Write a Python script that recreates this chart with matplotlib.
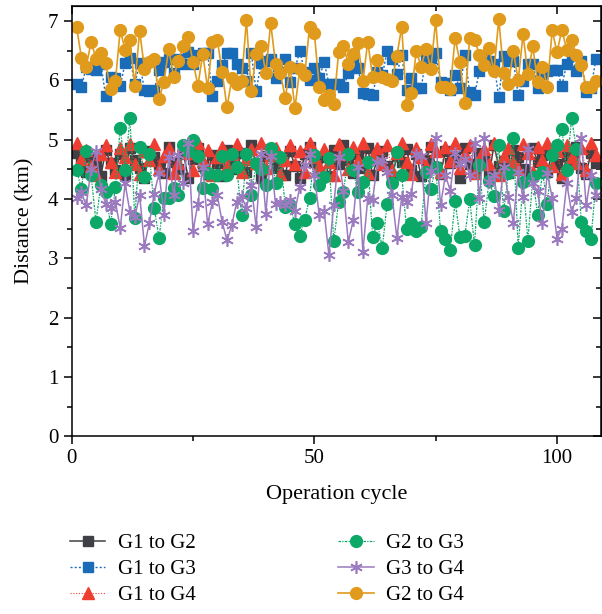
import matplotlib
matplotlib.use('Agg')
import matplotlib.pyplot as plt
import numpy as np

plt.rcParams['font.family'] = ['Liberation Serif', 'DejaVu Serif']

# distances (km) per operation cycle, cycles 1..108
g1_g2 = [4.78, 4.62, 4.45, 4.70, 4.55, 4.38, 4.82, 4.60, 4.48, 4.75, 4.40, 4.85, 4.66, 4.52, 4.36, 4.80, 4.70, 4.58,
         4.44, 4.88, 4.62, 4.50, 4.78, 4.35, 4.68, 4.86, 4.55, 4.42, 4.74, 4.60, 4.38, 4.83, 4.66, 4.50, 4.78, 4.45,
         4.90, 4.58, 4.36, 4.72, 4.84, 4.52, 4.64, 4.40, 4.80, 4.56, 4.35, 4.76, 4.88, 4.62, 4.46, 4.70, 4.38, 4.82,
         4.58, 4.90, 4.66, 4.44, 4.75, 4.52, 4.86, 4.40, 4.68, 4.80, 4.55, 4.36, 4.72, 4.62, 4.84, 4.48, 4.76, 4.38,
         4.66, 4.88, 4.54, 4.42, 4.80, 4.60, 4.72, 4.35, 4.85, 4.58, 4.46, 4.78, 4.68, 4.40, 4.90, 4.56, 4.64, 4.44,
         4.82, 4.70, 4.50, 4.38, 4.86, 4.62, 4.74, 4.45, 4.80, 4.58, 4.36, 4.72, 4.66, 4.88, 4.52, 4.42, 4.78, 4.60]

g1_g3 = [5.93, 5.89, 6.22, 6.19, 6.18, 6.28, 5.73, 6.05, 6.04, 5.90, 6.29, 6.38, 5.93, 6.29, 5.83, 5.82, 5.83, 6.18,
         6.30, 6.35, 6.12, 6.35, 6.28, 6.47, 6.28, 6.42, 6.45, 6.46, 5.73, 5.99, 6.25, 6.45, 6.45, 6.28, 6.20, 5.98,
         6.46, 5.81, 6.29, 6.33, 6.36, 6.03, 6.14, 6.36, 5.97, 6.20, 6.49, 6.14, 6.00, 6.20, 6.03, 6.31, 5.94, 5.93,
         5.93, 5.88, 6.12, 6.30, 6.21, 5.78, 5.77, 5.75, 6.14, 6.08, 6.50, 6.36, 6.11, 6.42, 5.83, 6.03, 5.86, 5.86,
         6.39, 6.38, 6.45, 5.97, 5.96, 5.84, 6.08, 5.86, 6.42, 5.80, 5.75, 6.15, 6.37, 6.33, 6.28, 5.71, 6.40, 6.33,
         6.33, 5.75, 5.99, 6.28, 6.28, 5.86, 6.11, 6.15, 6.18, 6.18, 5.90, 6.28, 6.42, 6.15, 6.33, 5.80, 5.86, 6.35]

g1_g4 = [4.95, 4.68, 4.82, 4.55, 4.40, 4.75, 4.90, 4.62, 4.45, 4.85, 4.70, 4.92, 4.58, 4.42, 4.80, 4.66, 4.92, 4.50,
         4.72, 4.86, 4.44, 4.60, 4.90, 4.78, 4.48, 4.95, 4.64, 4.82, 4.40, 4.70, 4.88, 4.56, 4.76, 4.92, 4.46, 4.68,
         4.84, 4.60, 4.95, 4.52, 4.74, 4.86, 4.42, 4.66, 4.90, 4.58, 4.80, 4.45, 4.94, 4.70, 4.55, 4.84, 4.62, 4.40,
         4.92, 4.76, 4.50, 4.88, 4.66, 4.95, 4.44, 4.72, 4.85, 4.58, 4.90, 4.48, 4.78, 4.94, 4.62, 4.42, 4.86, 4.70,
         4.55, 4.92, 4.80, 4.46, 4.88, 4.64, 4.95, 4.52, 4.76, 4.90, 4.44, 4.68, 4.84, 4.58, 4.94, 4.40, 4.72, 4.86,
         4.62, 4.50, 4.92, 4.78, 4.46, 4.88, 4.66, 4.95, 4.55, 4.80, 4.42, 4.90, 4.70, 4.60, 4.86, 4.48, 4.94, 4.74]

g2_g3 = [4.49, 4.17, 4.81, 4.40, 3.61, 4.24, 4.11, 3.57, 4.20, 5.20, 4.48, 5.36, 3.67, 4.87, 4.37, 4.75, 3.85, 3.34,
         4.02, 4.01, 4.19, 4.06, 4.90, 4.80, 5.00, 4.72, 4.19, 4.43, 4.17, 4.40, 4.72, 4.40, 4.76, 4.54, 3.73, 4.76,
         4.06, 4.60, 4.50, 4.23, 4.86, 4.26, 4.71, 3.87, 3.89, 3.57, 3.38, 3.65, 4.01, 4.74, 4.23, 4.37, 4.69, 3.29,
         3.95, 4.12, 4.75, 4.48, 4.11, 4.29, 4.63, 3.36, 3.59, 3.18, 3.92, 4.26, 4.79, 4.40, 3.49, 3.59, 3.46, 3.53,
         4.45, 4.17, 4.54, 3.46, 3.33, 3.14, 3.96, 3.36, 3.38, 3.99, 3.22, 4.57, 3.61, 4.30, 4.05, 4.90, 3.79, 4.43,
         5.02, 3.18, 4.29, 3.29, 4.37, 3.73, 4.46, 3.92, 4.74, 4.90, 5.18, 4.48, 5.36, 4.84, 3.61, 3.46, 3.33, 4.26]

g3_g4 = [4.01, 4.11, 3.89, 4.51, 4.80, 4.17, 3.92, 3.85, 3.95, 3.51, 4.26, 3.78, 3.70, 4.06, 3.21, 3.59, 4.09, 4.43,
         3.73, 4.71, 4.06, 4.74, 4.26, 4.95, 3.46, 3.92, 4.54, 3.57, 3.95, 4.06, 3.61, 3.30, 3.56, 3.95, 4.05, 3.84,
         4.23, 3.53, 4.75, 3.75, 4.72, 3.91, 3.95, 3.89, 3.98, 3.80, 4.20, 4.57, 4.75, 4.40, 3.73, 3.80, 3.05, 3.90,
         4.71, 4.13, 3.27, 3.64, 4.54, 3.11, 4.01, 3.98, 4.62, 4.65, 4.45, 4.06, 3.34, 4.03, 3.94, 4.09, 4.76, 4.72,
         3.59, 4.47, 5.02, 3.89, 4.40, 4.14, 4.77, 4.58, 4.68, 4.40, 4.95, 4.02, 5.02, 4.29, 4.40, 3.81, 4.53, 4.03,
         3.60, 4.45, 4.03, 4.84, 4.26, 4.13, 3.60, 4.43, 4.02, 3.33, 3.50, 4.26, 3.78, 4.01, 5.03, 3.89, 4.40, 4.06]

g2_g4 = [6.90, 6.38, 6.23, 6.65, 6.36, 6.46, 6.29, 5.85, 5.98, 6.85, 6.51, 6.68, 5.91, 6.83, 6.19, 6.30, 6.36, 5.69,
         5.97, 6.53, 6.06, 6.33, 6.58, 6.72, 6.31, 5.91, 6.44, 5.87, 6.64, 6.68, 6.14, 5.54, 6.03, 5.94, 5.98, 7.01,
         5.81, 6.44, 6.58, 6.12, 6.96, 6.28, 6.12, 5.70, 6.22, 5.53, 6.19, 6.08, 6.89, 6.79, 5.89, 5.66, 5.75, 5.60,
         6.47, 6.58, 6.27, 6.44, 6.63, 5.98, 6.65, 6.05, 6.34, 6.05, 6.02, 5.99, 6.41, 6.90, 5.59, 5.78, 6.49, 6.23,
         6.53, 6.19, 7.01, 5.88, 5.88, 5.85, 6.71, 6.30, 5.62, 6.71, 6.68, 6.43, 6.26, 6.54, 6.15, 7.03, 6.12, 5.93,
         6.49, 6.00, 6.77, 6.10, 6.57, 5.97, 6.23, 5.89, 6.84, 6.47, 6.85, 6.51, 6.68, 6.43, 6.26, 5.88, 5.88, 5.99]

labels = ['G1 to G2', 'G1 to G3', 'G1 to G4', 'G2 to G3', 'G3 to G4', 'G2 to G4']

fig = plt.figure(figsize=(6.02, 6.14), dpi=100)
ax = fig.add_axes([71.7 / 602, 1 - 436.3 / 614, 529.0 / 602, 430.3 / 614])

def xs(v):
    return np.arange(1, len(v) + 1)

ax.plot(xs(g1_g2), g1_g2, color='#3f4045', lw=1.1, ls='-', marker='s', ms=7.5, label=labels[0])
ax.plot(xs(g1_g3), g1_g3, color='#1a6cb8', lw=1.0, ls=(0, (1.5, 1.5)), marker='s', ms=7.5, label=labels[1])
ax.plot(xs(g1_g4), g1_g4, color='#ee3e32', lw=0.8, ls=(0, (1, 1.5)), marker='^', ms=8.5, label=labels[2])
ax.plot(xs(g2_g3), g2_g3, color='#0ba868', lw=0.9, ls=(0, (2, 1, 1, 1)), marker='o', ms=8.5, label=labels[3])
ax.plot(xs(g3_g4), g3_g4, color='#9b7abf', lw=1.1, ls='-', marker=(6, 2, 0), ms=9, mew=1.2, label=labels[4])
ax.plot(xs(g2_g4), g2_g4, color='#e09a1c', lw=1.2, ls='-', marker='o', ms=8.5, label=labels[5])

ax.set_xlim(0, 109)
ax.set_ylim(0, 7.25)
ax.set_xticks([0, 50, 100])
ax.set_xticks([25, 75], minor=True)
ax.set_yticks(range(0, 8))
ax.set_yticks(np.arange(0.5, 7.5, 1.0), minor=True)

for s in ax.spines.values():
    s.set_linewidth(1.1)
ax.tick_params(which='major', direction='out', length=6, width=1.1, labelsize=15)
ax.tick_params(which='minor', direction='out', length=3.5, width=1.1)

top = ax.secondary_xaxis('top')
top.set_xticks([0, 50, 100])
top.set_xticks([25, 75], minor=True)
top.tick_params(which='major', direction='in', length=6, width=1.1, labeltop=False)
top.tick_params(which='minor', direction='in', length=3.5, width=1.1)
right = ax.secondary_yaxis('right')
right.set_yticks(range(0, 8))
right.set_yticks(np.arange(0.5, 7.5, 1.0), minor=True)
right.tick_params(which='major', direction='in', length=6, width=1.1, labelright=False)
right.tick_params(which='minor', direction='in', length=3.5, width=1.1)

ax.set_xlabel('Operation cycle', fontsize=16, labelpad=12)
ax.set_ylabel('Distance (km)', fontsize=16, labelpad=10)

handles, labs = ax.get_legend_handles_labels()
fig.legend(handles, labs, ncol=2, loc='upper left', bbox_to_anchor=(0.116, 0.131),
           frameon=False, fontsize=15, handlelength=1.7, handletextpad=0.6,
           columnspacing=6.85, labelspacing=0.3, borderpad=0, borderaxespad=0)

fig.savefig('out.png', dpi=100)
